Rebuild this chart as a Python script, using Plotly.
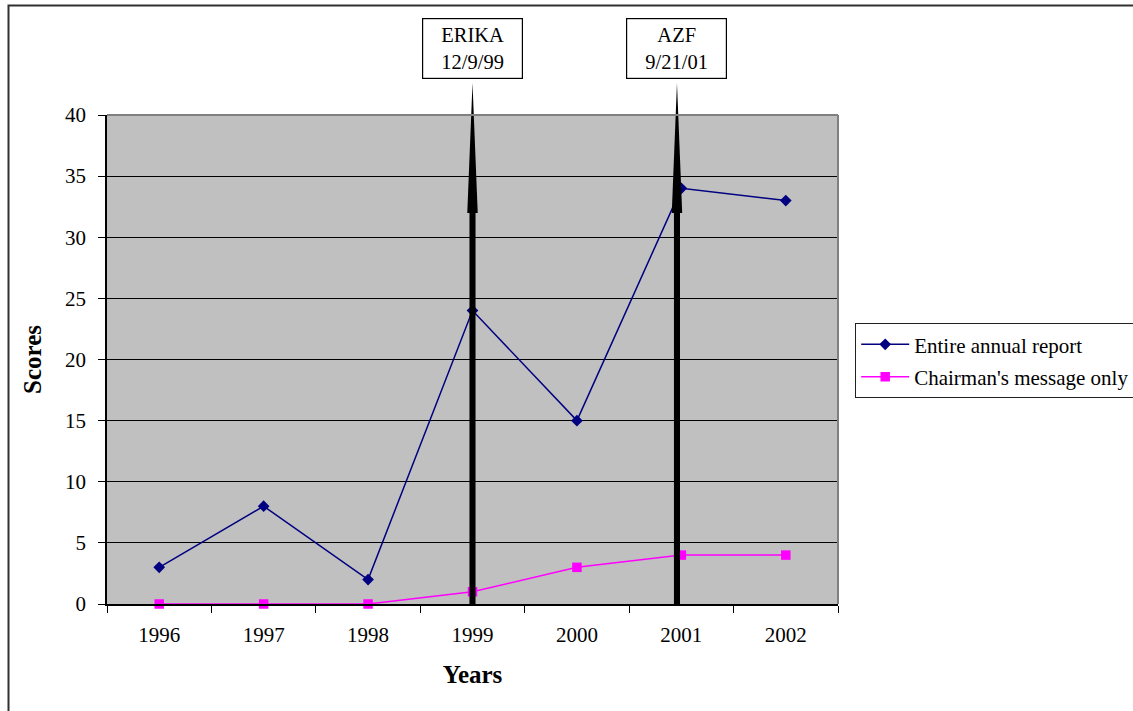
import plotly.graph_objects as go

# Scores by year
years = ["1996", "1997", "1998", "1999", "2000", "2001", "2002"]
entire_report = [3, 8, 2, 24, 15, 34, 33]
chairman_only = [0, 0, 0, 1, 3, 4, 4]
y_ticks = [0, 5, 10, 15, 20, 25, 30, 35, 40]

# Events marked with arrows: (label, category position, box shift)
events = [("ERIKA<br>12/9/99", 3.0, 0), ("AZF<br>9/21/01", 4.958, -5)]

FONT = "Liberation Serif, Times New Roman, serif"
W, H = 1133, 711
ML, MR, MT, MB = 107, 295, 115, 107
PW, PH = W - ML - MR, H - MT - MB


def px_to_paper_x(px):
    return (px - ML) / PW


def px_to_paper_y(py):
    return (H - MB - py) / PH


fig = go.Figure()
fig.add_trace(go.Scatter(
    x=years, y=entire_report, name="Entire annual report",
    mode="lines+markers", legendgroup="a", cliponaxis=False,
    line=dict(color="#000080", width=1.5),
    marker=dict(symbol="diamond", size=9, color="#000080"),
))
fig.add_trace(go.Scatter(
    x=years, y=chairman_only, name="Chairman's message only",
    mode="lines+markers", legendgroup="b", cliponaxis=False,
    line=dict(color="#FF00FF", width=1.5),
    marker=dict(symbol="square", size=9.5, color="#FF00FF"),
))

shapes = []
annotations = []
shaft_half = 0.029
head_half = 0.05
head_base = px_to_paper_y(213)
head_tip = px_to_paper_y(83)
for label, xc, xshift in events:
    shapes.append(dict(
        type="rect", xref="x", yref="paper",
        x0=xc - shaft_half, x1=xc + shaft_half, y0=0, y1=head_base + 0.005,
        fillcolor="black", line=dict(width=0), layer="above",
    ))
    shapes.append(dict(
        type="path", xref="x", yref="paper",
        path=f"M {xc - head_half} {head_base} L {xc} {head_tip} L {xc + head_half} {head_base} Z",
        fillcolor="black", line=dict(width=0), layer="above",
    ))
    annotations.append(dict(
        x=round(xc), xref="x", y=px_to_paper_y(48.5), yref="paper",
        xanchor="center", yanchor="middle",
        xshift=xshift, text=label, showarrow=False,
        font=dict(family=FONT, size=20.5, color="black"),
        bgcolor="white", bordercolor="black", borderwidth=1.2, borderpad=2,
        width=95, height=55, align="center", valign="middle",
    ))

# Plot-area frame (top and right in grey)
shapes.append(dict(type="line", xref="paper", yref="paper", x0=0, x1=1, y0=1, y1=1,
                   line=dict(color="#808080", width=2), layer="above"))
shapes.append(dict(type="line", xref="paper", yref="paper", x0=1, x1=1, y0=0, y1=1,
                   line=dict(color="#808080", width=2), layer="above"))
# Outer chart border
shapes.append(dict(type="rect", xref="paper", yref="paper",
                   x0=px_to_paper_x(8.5), x1=px_to_paper_x(1145),
                   y0=px_to_paper_y(725), y1=px_to_paper_y(5.5),
                   line=dict(color="#303030", width=2), layer="above"))

fig.update_layout(
    width=W, height=H,
    margin=dict(l=ML, r=MR, t=MT, b=MB, autoexpand=False),
    paper_bgcolor="white",
    plot_bgcolor="#C0C0C0",
    font=dict(family=FONT, size=21, color="black"),
    showlegend=True,
    legend=dict(
        x=px_to_paper_x(855), y=px_to_paper_y(323), xanchor="left", yanchor="top",
        bgcolor="white", bordercolor="#202020", borderwidth=1.2,
        font=dict(family=FONT, size=21, color="black"),
        itemwidth=48, tracegroupgap=2, traceorder="grouped",
    ),
    shapes=shapes,
    annotations=annotations,
)
fig.update_xaxes(
    type="category", range=[-0.5, 6.5],
    showline=True, linecolor="black", linewidth=1.5,
    ticks="outside", tickson="boundaries", ticklen=7, tickcolor="black",
    ticklabelstandoff=11,
    showgrid=False,
    tickfont=dict(family=FONT, size=21),
    title=dict(text="<b>Years</b>", font=dict(family=FONT, size=25), standoff=20),
)
fig.update_yaxes(
    range=[0, 40], tickvals=y_ticks,
    showline=True, linecolor="black", linewidth=1.5,
    ticks="outside", ticklen=7, tickcolor="black",
    ticklabelstandoff=8,
    showgrid=True, gridcolor="black", gridwidth=1,
    zeroline=False,
    tickfont=dict(family=FONT, size=21),
    title=dict(text="<b>Scores</b>", font=dict(family=FONT, size=25), standoff=16),
)

fig.write_html("out.html")
